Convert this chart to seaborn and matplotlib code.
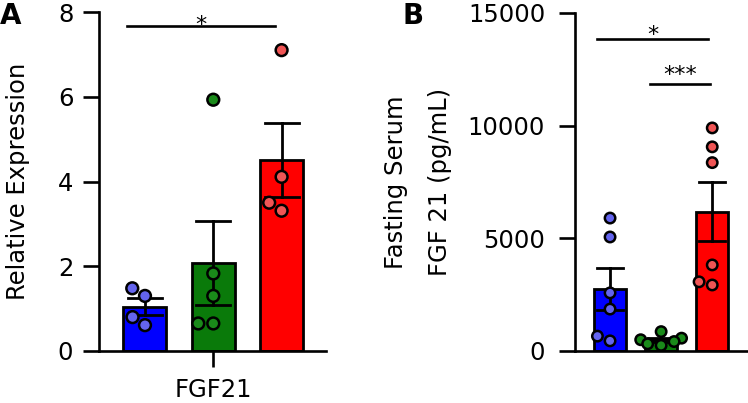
import seaborn as sns
import numpy as np
import pandas as pd
import matplotlib.pyplot as plt

# ======================
# DATOS
# ======================
grupos = ['g1', 'g2', 'g3']
colores_barra = ['#0000FF', '#0A7A0A', '#FF0000']
colores_punto = ['#6464EE', '#1A8A1A', '#F05555']

# Panel A: Relative Expression, FGF21
expr_g1 = [1.48, 1.30, 0.80, 0.61]
expr_g2 = [5.93, 1.83, 1.30, 0.65, 0.65]
expr_g3 = [7.10, 4.11, 3.50, 3.31]

# Panel B: Fasting Serum FGF 21 (pg/mL)
serum_g1 = [5900, 5060, 2580, 1860, 660, 450]
serum_g2 = [860, 570, 500, 420, 320, 250]
serum_g3 = [9900, 9060, 8360, 3820, 3070, 2930]

ticks_a = [0, 2, 4, 6, 8]
ticks_b = [0, 5000, 10000, 15000]


def a_tabla(*series):
    filas = []
    for g, vals in zip(grupos, series):
        for v in vals:
            filas.append({'grupo': g, 'valor': v})
    return pd.DataFrame(filas)


df_a = a_tabla(expr_g1, expr_g2, expr_g3)
df_b = a_tabla(serum_g1, serum_g2, serum_g3)

plt.rcParams['font.family'] = ['DejaVu Sans']
FS = 17.5

fig = plt.figure(figsize=(7.48, 4.03), dpi=100)
ax_a = fig.add_axes([99 / 748, 52 / 403, 227 / 748, 339 / 403])
ax_b = fig.add_axes([575 / 748, 52 / 403, 173 / 748, 338 / 403])


def dibujar(ax, df, tam):
    sns.barplot(
        data=df, x='grupo', y='valor', hue='grupo', palette=colores_barra,
        order=grupos, errorbar='se', capsize=0.5, width=0.63, saturation=1,
        edgecolor='black', linewidth=2.0, legend=False, ax=ax,
        err_kws={'color': 'black', 'linewidth': 2.0, 'zorder': 4},
    )
    sns.swarmplot(
        data=df, x='grupo', y='valor', hue='grupo', palette=colores_punto,
        order=grupos, size=tam, edgecolor='black', linewidth=1.8,
        legend=False, ax=ax, zorder=5,
    )
    for lado in ['top', 'right']:
        ax.spines[lado].set_visible(False)
    for lado in ['left', 'bottom']:
        ax.spines[lado].set_linewidth(1.9)
    ax.tick_params(axis='both', length=11.5, width=1.9, labelsize=FS)
    ax.set_xlabel('')


def signif(ax, x0, x1, y, texto, dy):
    ax.plot([x0, x1], [y, y], color='black', lw=1.9, clip_on=False)
    ax.text((x0 + x1) / 2, y + dy, texto, ha='center', va='center',
            fontsize=16)


# ---- Panel A ----
dibujar(ax_a, df_a, 8.5)
ax_a.set_xlim(-0.673, 2.65)
ax_a.set_ylim(0, 8)
ax_a.set_yticks(ticks_a)
ax_a.set_xticks([1])
ax_a.set_xticklabels(['FGF21'])
ax_a.tick_params(axis='x', pad=8)
ax_a.tick_params(axis='y', pad=7)
ax_a.set_ylabel('Relative Expression', fontsize=FS)
ax_a.yaxis.set_label_coords(-0.305, 0.5)
signif(ax_a, -0.26, 1.9, 7.68, '*', 0.02)

# ---- Panel B ----
dibujar(ax_b, df_b, 7.5)
ax_b.set_xlim(-0.686, 2.7)
ax_b.set_ylim(0, 15000)
ax_b.set_yticks(ticks_b)
ax_b.set_xticks([])
ax_b.tick_params(axis='y', pad=10)
ax_b.set_ylabel('Fasting Serum\nFGF 21 (pg/mL)', fontsize=FS, linespacing=2.05)
ax_b.yaxis.set_label_coords(-0.71, 0.5)
signif(ax_b, -0.255, 1.92, 13850, '*', 180)
signif(ax_b, 0.78, 1.96, 11850, '***', 400)

fig.text(0.0, 0.995, 'A', fontsize=20, fontweight='bold', va='top', ha='left')
fig.text(402 / 748, 0.995, 'B', fontsize=20, fontweight='bold', va='top', ha='left')

fig.savefig('out.png', dpi=100)
